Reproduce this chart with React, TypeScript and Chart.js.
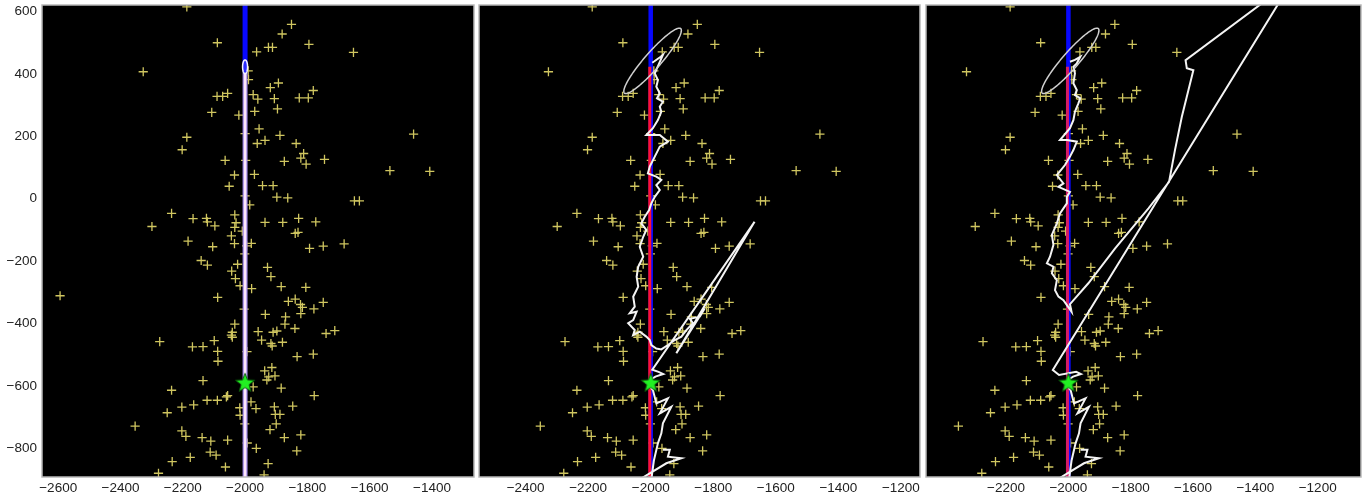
import React, { useEffect, useRef } from "react";
import { Chart, registerables } from "chart.js";

Chart.register(...registerables);

// ---------- data ----------
const yTickValues = [-800, -600, -400, -200, 0, 200, 400, 600];
const xTicksPanel1 = [-2600, -2400, -2200, -2000, -1800, -1600, -1400];
const xTicksPanel2 = [-2400, -2200, -2000, -1800, -1600, -1400, -1200];
const xTicksPanel3 = [-2200, -2000, -1800, -1600, -1400, -1200];

const obsX = [
  -2187, -1851, -1881, -2089, -1795, -1925, -1912, -1963, -1652, -2327, -1990, -1989, -1893, -1919, -1781, -1974,
  -2056, -2090, -2072, -1959, -1906, -1826, -1797, -1896, -1969, -2107, -2020, -1955, -2187, -1888, -1936, -1961,
  -1836, -2202, -1459, -1812, -1821, -1745, -2064, -1874, -1804, -1998, -1535, -1407, -1970, -2034, -2051, -1944,
  -1910, -2000, -1898, -1863, -1649, -1633, -1985, -2236, -2033, -2167, -2124, -2121, -1936, -1879, -1828, -1773,
  -2097, -2299, -2029, -2033, -2009, -2044, -1839, -1830, -2183, -2034, -1980, -2104, -1995, -1793, -1749, -1682,
  -2001, -2141, -2121, -2024, -1928, -2043, -1917, -2031, -2016, -1979, -1884, -1805, -2594, -2088, -1861, -1839,
  -1822, -1816, -1749, -1779, -1821, -2003, -1935, -1870, -1872, -2033, -1840, -2041, -2044, -2041, -1958, -1898,
  -1910, -1740, -1712, -1947, -2274, -2099, -1917, -1913, -1880, -2169, -2135, -2088, -1994, -1781, -1833, -2087,
  -1914, -1937, -1924, -1930, -1904, -2135, -1974, -1884, -2236, -1778, -2060, -2056, -2122, -2089, -1981, -2165,
  -2203, -2017, -2016, -1965, -1906, -1903, -1847, -1888, -2250, -1900, -2353, -2203, -2190, -1920, -2001, -1821,
  -2138, -2110, -2056, -1874, -1993, -1964, -1834, -2112, -2093, -2176, -2234, -1926, -2063, -2278, -1939, -2000,
];
const obsY = [
  615, 559, 528, 500, 495, 485, 485, 471, 469, 407, 410, 382, 371, 356, 347, 334,
  338, 328, 328, 319, 321, 323, 323, 288, 280, 277, 268, 224, 197, 203, 187, 177,
  177, 157, 207, 145, 130, 126, 123, 120, 111, 123, 90, 88, 78, 76, 40, 42,
  42, 9, 5, 3, -7, -7, -20, -47, -52, -64, -63, -74, -76, -76, -63, -74,
  -87, -89, -77, -92, -104, -119, -111, -108, -136, -144, -143, -154, -151, -159, -152, -145,
  -177, -198, -213, -210, -220, -232, -250, -256, -279, -288, -282, -284, -311, -316, -329, -322,
  -339, -348, -332, -353, -368, -354, -371, -379, -402, -402, -416, -428, -437, -444, -426, -424,
  -428, -432, -423, -453, -458, -455, -464, -472, -460, -475, -474, -489, -490, -498, -506, -521,
  -541, -552, -571, -581, -568, -583, -603, -607, -614, -631, -635, -631, -646, -646, -651, -661,
  -668, -670, -694, -673, -667, -691, -665, -691, -686, -722, -729, -744, -762, -740, -722, -757,
  -766, -777, -774, -766, -783, -800, -808, -812, -822, -829, -843, -849, -860, -880, -885, 209,
];

const truthX = -2000;
const starPoint = [-2000, -590];

// estimated track, panel 2 (top -> star)
const track2: [number, number][] = [
  [-1995, 436], [-1968, 455], [-1961, 461], [-1973, 434], [-1987, 402], [-1977, 380], [-1982, 359], [-1971, 338],
  [-1980, 322], [-1961, 311], [-1971, 295], [-1966, 279], [-1977, 252], [-1993, 226], [-2014, 204], [-1993, 204],
  [-1971, 204], [-1945, 183], [-1971, 167], [-1987, 135], [-2003, 103], [-2009, 81], [-1982, 71], [-1966, 60],
  [-1982, 44], [-1971, 28], [-1987, 6], [-1998, -15], [-2005, -36], [-2019, -58], [-2030, -79], [-2014, -100],
  [-2024, -122], [-2035, -154], [-2024, -186], [-2040, -218], [-2045, -250], [-2040, -282], [-2056, -314],
  [-2051, -346], [-2067, -367], [-2045, -362], [-2056, -389], [-2072, -399], [-2051, -421], [-2056, -437],
  [-2035, -426], [-2014, -442], [-2003, -453], [-1998, -469], [-1982, -480], [-1966, -483], [-1945, -469],
  [-1923, -453], [-1902, -442], [-1886, -421], [-1865, -399], [-1875, -385], [-1843, -378], [-1827, -351],
  [-1918, -495], [-1668, -74], [-1995, -548], [-1975, -555], [-1960, -562], [-1985, -570], [-2015, -590],
];

// estimated track, panel 3 (top -> star)
const track3: [number, number][] = [
  [-1995, 439], [-1979, 445], [-1962, 455], [-1973, 434], [-1984, 423], [-1979, 402], [-1984, 370], [-1973, 348],
  [-1979, 332], [-1962, 322], [-1968, 306], [-1979, 279], [-1984, 252], [-1995, 226], [-2027, 188], [-2005, 188],
  [-1973, 183], [-1984, 156], [-1995, 135], [-2011, 108], [-2037, 76], [-2016, 49], [-2032, 38], [-1995, 22],
  [-2005, 6], [-2005, -15], [-2027, -47], [-2037, -79], [-2053, -116], [-2048, -148], [-2059, -186], [-2069, -207],
  [-2048, -218], [-2053, -239], [-2037, -261], [-2043, -293], [-2032, -314], [-2016, -325], [-1990, -362],
  [-1995, -338], [-1936, -271], [-1850, -159], [-1743, -31], [-1677, 54], [-1658, 156], [-1636, 263], [-1599, 412],
  [-1620, 418], [-1624, 444], [-1280, 700], [-2050, -549], [-2030, -565], [-1975, -555], [-1960, -562],
  [-1985, -570], [-2015, -590],
];

// shared lower part of the track (star -> bottom)
const trackTail: [number, number][] = [
  [-1993, -613], [-1982, -656], [-1945, -640], [-1971, -688], [-1934, -667], [-1961, -720], [-1966, -752],
  [-1977, -784], [-1990, -840], [-2000, -915], [-2060, -915], [-1950, -848], [-1902, -832], [-1945, -827],
  [-1939, -805], [-1961, -805],
];

// uncertainty ellipses: [centreX, centreY, semiMajor, semiMinor, angleDeg]
const ellipsePanel1 = [-2000, 423, 22, 8, 90];
const ellipsePanel23 = [-1994, 442, 137, 26, 49];

// ---------- styling ----------
const H = 499;
const PLUS_COLOR = "#d0c660";
const FONT = { family: "'Liberation Sans', Arial, sans-serif", size: 13.5 };
const fmt = (v: any) => String(v).replace("-", "\u2212");

function makeStar(): HTMLCanvasElement {
  const c = document.createElement("canvas");
  c.width = 22;
  c.height = 22;
  const g = c.getContext("2d")!;
  g.beginPath();
  for (let i = 0; i < 10; i++) {
    const r = i % 2 === 0 ? 10 : 4.2;
    const a = -Math.PI / 2 + (i * Math.PI) / 5;
    g.lineTo(11 + r * Math.cos(a), 11.5 + r * Math.sin(a));
  }
  g.closePath();
  g.fillStyle = "#22f022";
  g.fill();
  g.strokeStyle = "#0b5a0b";
  g.lineWidth = 1;
  g.stroke();
  return c;
}

const decoPlugin = {
  id: "deco",
  beforeDraw(chart: any) {
    const { ctx, chartArea } = chart;
    ctx.save();
    ctx.fillStyle = "#000";
    ctx.fillRect(chartArea.left, chartArea.top, chartArea.right - chartArea.left, chartArea.bottom - chartArea.top);
    ctx.restore();
  },
  afterDatasetsDraw(chart: any, _args: any, opts: any) {
    const e = opts && opts.ellipse;
    if (!e) return;
    const { ctx, chartArea } = chart;
    const xs = chart.scales.x;
    const ys = chart.scales.y;
    const [cx, cy, a, b, deg] = e;
    const th = (deg * Math.PI) / 180;
    ctx.save();
    ctx.beginPath();
    ctx.rect(chartArea.left, chartArea.top, chartArea.right - chartArea.left, chartArea.bottom - chartArea.top);
    ctx.clip();
    ctx.beginPath();
    const n = 160;
    for (let i = 0; i <= n; i++) {
      const t = (i / n) * Math.PI * 2;
      const dx = a * Math.cos(t) * Math.cos(th) - b * Math.sin(t) * Math.sin(th);
      const dy = a * Math.cos(t) * Math.sin(th) + b * Math.sin(t) * Math.cos(th);
      const px = xs.getPixelForValue(cx + dx);
      const py = ys.getPixelForValue(cy + dy);
      if (i === 0) ctx.moveTo(px, py);
      else ctx.lineTo(px, py);
    }
    ctx.closePath();
    if (opts.fill) {
      ctx.fillStyle = opts.fill;
      ctx.fill();
    }
    ctx.strokeStyle = opts.stroke || "#cfcfcf";
    ctx.lineWidth = opts.lineWidth || 1.5;
    ctx.stroke();
    ctx.restore();
  },
  afterDraw(chart: any) {
    const { ctx, chartArea } = chart;
    ctx.save();
    ctx.strokeStyle = "#b8b8b8";
    ctx.lineWidth = 1.5;
    ctx.strokeRect(chartArea.left, chartArea.top, chartArea.right - chartArea.left, chartArea.bottom - chartArea.top);
    ctx.restore();
  },
};

type PanelSpec = {
  left: number;
  width: number;
  xMin: number;
  xMax: number;
  xTicks: number[];
  showY: boolean;
  pad: { left: number; right: number };
  kind: 1 | 2 | 3;
};

const panels: PanelSpec[] = [
  { left: 0, width: 476, xMin: -2652, xMax: -1265, xTicks: xTicksPanel1, showY: true, pad: { left: 0, right: 2 }, kind: 1 },
  { left: 478, width: 444, xMin: -2549, xMax: -1139, xTicks: xTicksPanel2, showY: false, pad: { left: 1, right: 2 }, kind: 2 },
  { left: 925, width: 439, xMin: -2457, xMax: -1061, xTicks: xTicksPanel3, showY: false, pad: { left: 1, right: 3 }, kind: 3 },
];

const toPts = (arr: [number, number][]) => arr.map(([x, y]) => ({ x, y }));

function lineDs(data: any[], color: string, width: number, order: number) {
  return {
    type: "scatter" as const,
    data,
    showLine: true,
    borderColor: color,
    borderWidth: width,
    pointRadius: 0,
    tension: 0,
    clip: 0,
    order,
  };
}

function buildDatasets(p: PanelSpec, star: HTMLCanvasElement) {
  const obs = obsX.map((x, i) => ({ x, y: obsY[i] }));
  const ds: any[] = [
    {
      data: obs,
      pointStyle: "cross",
      pointRadius: 4.6,
      borderColor: PLUS_COLOR,
      backgroundColor: PLUS_COLOR,
      borderWidth: 1.3,
      clip: 0,
      order: 20,
    },
  ];
  if (p.kind === 1) {
    ds.push(lineDs([{ x: truthX, y: 650 }, { x: truthX, y: 432 }], "#0808ff", 5, 9));
    ds.push(lineDs([{ x: truthX, y: 416 }, { x: truthX, y: -920 }], "#9c84e4", 5, 8));
    ds.push(lineDs([{ x: truthX, y: 416 }, { x: truthX, y: -920 }], "#fde6fb", 2.6, 7));
  } else {
    ds.push(lineDs([{ x: truthX, y: 650 }, { x: truthX, y: -920 }], "#0808ff", 4.5, 9));
    ds.push(
      lineDs(
        [{ x: truthX - 3, y: 423 }, { x: truthX - 3, y: -920 }],
        p.kind === 2 ? "#ff1030" : "#d41c66",
        3,
        8
      )
    );
    const main = p.kind === 2 ? track2 : track3;
    ds.push(lineDs(toPts([...main, ...trackTail]), "#f4f4f4", 2, 5));
  }
  ds.push({
    data: [{ x: starPoint[0], y: starPoint[1] }],
    pointStyle: star,
    pointRadius: 10,
    clip: 0,
    order: 1,
  });
  return ds;
}

function Panel({ p }: { p: PanelSpec }) {
  const ref = useRef<HTMLCanvasElement>(null);
  useEffect(() => {
    const star = makeStar();
    const chart = new Chart(ref.current!, {
      type: "scatter",
      data: { datasets: buildDatasets(p, star) },
      plugins: [decoPlugin],
      options: {
        animation: false,
        responsive: false,
        devicePixelRatio: 1,
        events: [],
        layout: {
          autoPadding: false,
          padding: { top: 5, bottom: 0, left: p.pad.left, right: p.pad.right },
        },
        plugins: {
          legend: { display: false },
          tooltip: { enabled: false },
          deco: {
            ellipse: p.kind === 1 ? ellipsePanel1 : ellipsePanel23,
            fill: p.kind === 1 ? "#2a2aff" : null,
            stroke: p.kind === 1 ? "#f4f4ff" : "#cfcfcf",
            lineWidth: 1.5,
          },
        } as any,
        scales: {
          x: {
            type: "linear",
            min: p.xMin,
            max: p.xMax,
            grid: { display: false, drawTicks: false },
            border: { display: false },
            afterBuildTicks: (s: any) => {
              s.ticks = p.xTicks.map((v) => ({ value: v }));
            },
            afterFit: (s: any) => {
              s.height = 22;
              s.paddingLeft = 0;
              s.paddingRight = 0;
              s.paddingTop = 0;
              s.paddingBottom = 0;
            },
            ticks: {
              color: "#222",
              font: FONT,
              padding: 3,
              maxRotation: 0,
              autoSkip: false,
              callback: fmt,
            },
          },
          y: {
            type: "linear",
            display: p.showY,
            min: -892,
            max: 621,
            grid: { display: false, drawTicks: false },
            border: { display: false },
            afterBuildTicks: (s: any) => {
              s.ticks = yTickValues.map((v) => ({ value: v }));
            },
            afterFit: (s: any) => {
              s.width = p.showY ? 42 : 0;
              s.paddingLeft = 0;
              s.paddingRight = 0;
              s.paddingTop = 0;
              s.paddingBottom = 0;
            },
            ticks: {
              color: "#222",
              font: FONT,
              padding: 5,
              autoSkip: false,
              callback: fmt,
            },
          },
        },
      } as any,
    });
    return () => chart.destroy();
  }, []);
  return (
    <canvas
      ref={ref}
      width={p.width}
      height={H}
      style={{ position: "absolute", left: p.left, top: 0, width: p.width, height: H }}
    />
  );
}

export default function App() {
  return (
    <div style={{ position: "absolute", left: 0, top: 0, width: 1364, height: H, background: "#fff" }}>
      {panels.map((p) => (
        <Panel key={p.kind} p={p} />
      ))}
    </div>
  );
}
